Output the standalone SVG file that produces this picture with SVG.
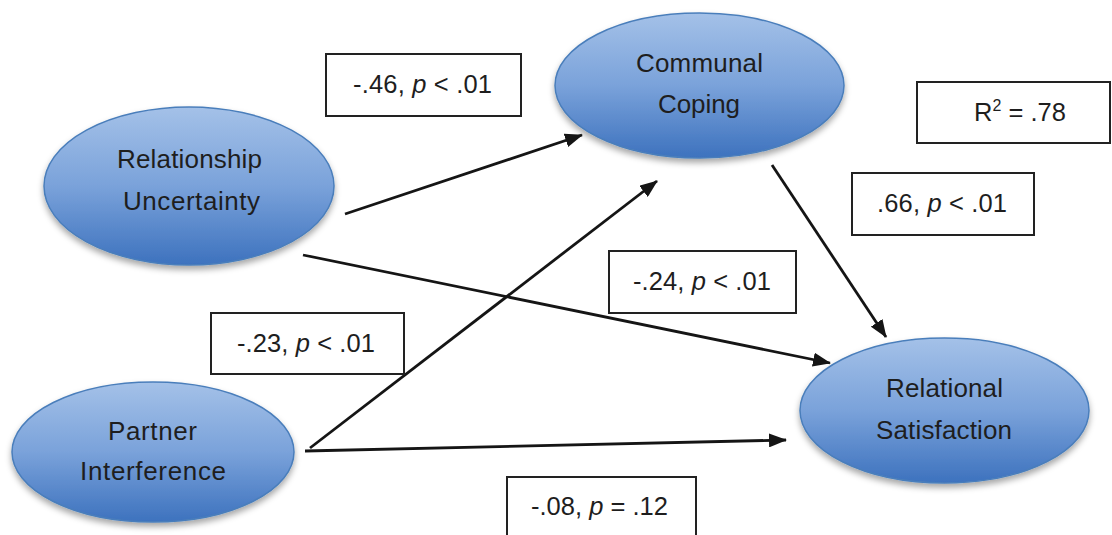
<svg xmlns="http://www.w3.org/2000/svg" width="1112" height="535" viewBox="0 0 1112 535">
  <style>
    .node-shape { fill: url(#nodeFill); stroke: #4a7ebb; stroke-width: 1.5; filter: url(#nodeShadow); }
    .node-label { font-family: "Liberation Sans", Arial, sans-serif; font-size: 26px; fill: #1e1e1e; text-anchor: middle; }
    .stat-box { fill: #ffffff; stroke: #222222; stroke-width: 2; }
    .stat-text { font-family: "Liberation Sans", Arial, sans-serif; font-size: 25.5px; fill: #1e1e1e; }
    .path-line { stroke: #151515; stroke-width: 2.8; fill: none; marker-end: url(#arrowHead); }
  </style>
  <defs>
    <linearGradient id="nodeFill" x1="0" y1="0" x2="0" y2="1">
      <stop offset="0" stop-color="#a4c1e8"/>
      <stop offset="0.5" stop-color="#7aa2da"/>
      <stop offset="1" stop-color="#3d72be"/>
    </linearGradient>
    <filter id="nodeShadow" x="-10%" y="-10%" width="120%" height="130%">
      <feDropShadow dx="0" dy="4" stdDeviation="3" flood-color="#000000" flood-opacity="0.35"/>
    </filter>
    <marker id="arrowHead" viewBox="0 0 18 14" refX="17" refY="7" markerWidth="18" markerHeight="14" markerUnits="userSpaceOnUse" orient="auto">
      <path d="M0,0 L18,7 L0,14 Z" fill="#151515"/>
    </marker>
  </defs>

  <rect width="1112" height="535" fill="#ffffff"/>

  <!-- latent variables -->
  <g id="relationship-uncertainty">
    <ellipse class="node-shape" cx="189" cy="186" rx="145" ry="79"/>
    <text class="node-label" x="189.5" y="168" textLength="145">Relationship</text>
    <text class="node-label" x="191.5" y="210" textLength="137">Uncertainty</text>
  </g>
  <g id="communal-coping">
    <ellipse class="node-shape" cx="699.5" cy="85.5" rx="144.5" ry="72.5"/>
    <text class="node-label" x="699.5" y="72" textLength="127">Communal</text>
    <text class="node-label" x="699" y="113" textLength="82">Coping</text>
  </g>
  <g id="relational-satisfaction">
    <ellipse class="node-shape" cx="944.5" cy="410.5" rx="144.5" ry="72.5"/>
    <text class="node-label" x="944.5" y="397" textLength="117">Relational</text>
    <text class="node-label" x="944" y="439" textLength="136">Satisfaction</text>
  </g>
  <g id="partner-interference">
    <ellipse class="node-shape" cx="153" cy="452" rx="141" ry="70"/>
    <text class="node-label" x="152.5" y="440" textLength="89">Partner</text>
    <text class="node-label" x="153" y="480" textLength="146">Interference</text>
  </g>

  <!-- structural paths -->
  <g id="connectors">
    <line class="path-line" x1="345" y1="214" x2="582" y2="135"/>
    <line class="path-line" x1="303" y1="255" x2="830" y2="363"/>
    <line class="path-line" x1="310" y1="448" x2="657" y2="181"/>
    <line class="path-line" x1="305" y1="451" x2="786" y2="440"/>
    <line class="path-line" x1="772" y1="165" x2="886" y2="337"/>
  </g>

  <!-- path coefficients -->
  <g id="coef-ru-cc">
    <rect class="stat-box" x="326" y="54" width="195" height="62"/>
    <text class="stat-text" x="353" y="93" textLength="139">-.46, <tspan font-style="italic">p</tspan> &lt; .01</text>
  </g>
  <g id="coef-r2">
    <rect class="stat-box" x="917" y="82" width="193" height="61"/>
    <text class="stat-text" x="974" y="121">R<tspan font-size="16" dy="-10">2</tspan><tspan dy="10"> = .78</tspan></text>
  </g>
  <g id="coef-cc-rs">
    <rect class="stat-box" x="852" y="173" width="182" height="62"/>
    <text class="stat-text" x="877" y="212" textLength="130">.66, <tspan font-style="italic">p</tspan> &lt; .01</text>
  </g>
  <g id="coef-ru-rs">
    <rect class="stat-box" x="609" y="251" width="187" height="62"/>
    <text class="stat-text" x="633" y="290" textLength="138">-.24, <tspan font-style="italic">p</tspan> &lt; .01</text>
  </g>
  <g id="coef-pi-cc">
    <rect class="stat-box" x="211" y="313" width="193" height="61"/>
    <text class="stat-text" x="237" y="352" textLength="138">-.23, <tspan font-style="italic">p</tspan> &lt; .01</text>
  </g>
  <g id="coef-pi-rs">
    <rect class="stat-box" x="507" y="477" width="189" height="70"/>
    <text class="stat-text" x="531" y="515" textLength="137">-.08, <tspan font-style="italic">p</tspan> = .12</text>
  </g>
</svg>
